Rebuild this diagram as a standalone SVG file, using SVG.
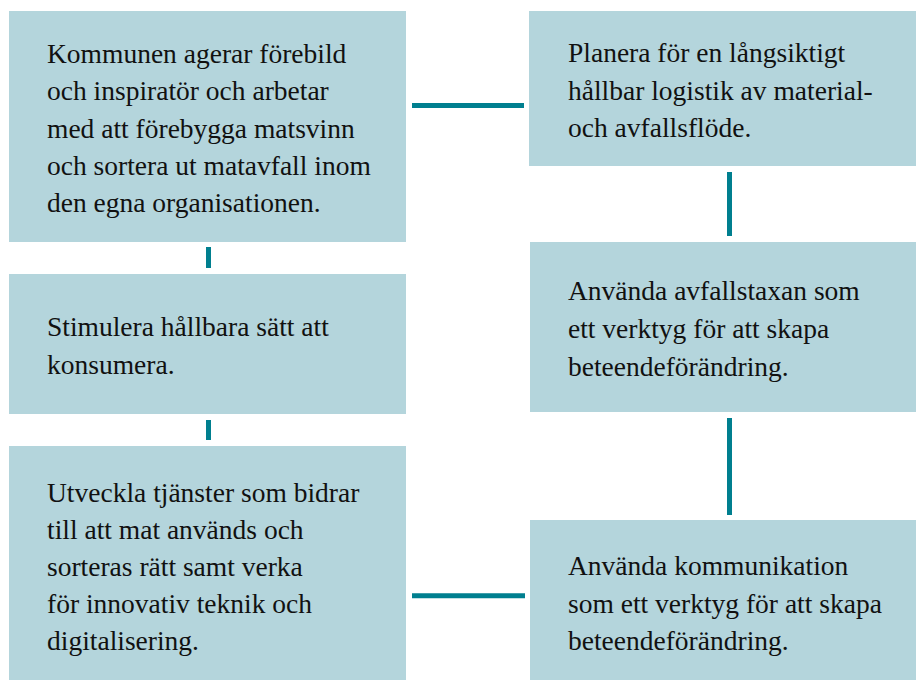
<svg xmlns="http://www.w3.org/2000/svg" width="916" height="680" viewBox="0 0 916 680">
<style>
.box{fill:#b4d5dc}
.conn{stroke:#007f8f;stroke-width:5;fill:none}
.t{font-family:"Liberation Serif","Times New Roman",serif;font-size:27.5px;fill:#111}
</style>
<rect width="916" height="680" fill="#ffffff"/>
<g id="connectors">
<line class="conn" x1="208.5" y1="247" x2="208.5" y2="268"/>
<line class="conn" x1="208.5" y1="420" x2="208.5" y2="440"/>
<line class="conn" x1="412" y1="105.5" x2="524" y2="105.5"/>
<line class="conn" x1="412" y1="595.8" x2="525" y2="595.8"/>
<line class="conn" x1="729.5" y1="172" x2="729.5" y2="236"/>
<line class="conn" x1="729.5" y1="418" x2="729.5" y2="515"/>
</g>
<g id="node1">
<rect class="box" x="9" y="11" width="397" height="231"/>
<text class="t" x="47" y="63">Kommunen agerar förebild</text>
<text class="t" x="47" y="100">och inspiratör och arbetar</text>
<text class="t" x="47" y="137.5">med att förebygga matsvinn</text>
<text class="t" x="47" y="175">och sortera ut matavfall inom</text>
<text class="t" x="47" y="212">den egna organisationen.</text>
</g>
<g id="node2">
<rect class="box" x="9" y="274" width="397" height="140"/>
<text class="t" x="47" y="336">Stimulera hållbara sätt att</text>
<text class="t" x="47" y="374">konsumera.</text>
</g>
<g id="node3">
<rect class="box" x="9" y="446" width="397" height="234"/>
<text class="t" x="47" y="502">Utveckla tjänster som bidrar</text>
<text class="t" x="47" y="538.5">till att mat används och</text>
<text class="t" x="47" y="575.5">sorteras rätt samt verka</text>
<text class="t" x="47" y="613">för innovativ teknik och</text>
<text class="t" x="47" y="650">digitalisering.</text>
</g>
<g id="node4">
<rect class="box" x="529" y="11" width="387" height="155"/>
<text class="t" x="568" y="62">Planera för en långsiktigt</text>
<text class="t" x="568" y="99.5">hållbar logistik av material-</text>
<text class="t" x="568" y="137">och avfallsflöde.</text>
</g>
<g id="node5">
<rect class="box" x="530" y="242" width="386" height="170"/>
<text class="t" x="568" y="300">Använda avfallstaxan som</text>
<text class="t" x="568" y="338">ett verktyg för att skapa</text>
<text class="t" x="568" y="376">beteendeförändring.</text>
</g>
<g id="node6">
<rect class="box" x="530" y="520" width="386" height="160"/>
<text class="t" x="568" y="575">Använda kommunikation</text>
<text class="t" x="568" y="613">som ett verktyg för att skapa</text>
<text class="t" x="568" y="650">beteendeförändring.</text>
</g>
</svg>
